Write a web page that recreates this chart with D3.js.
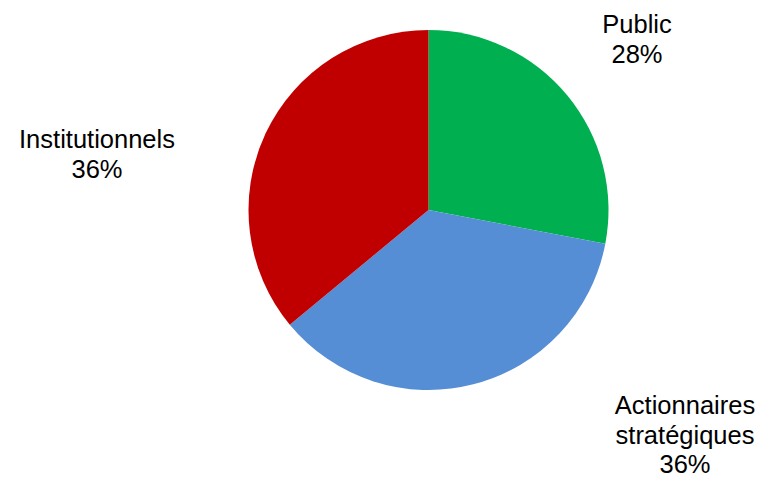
<!DOCTYPE html>
<html>
<head>
<meta charset="utf-8">
<script src="https://cdn.jsdelivr.net/npm/d3@7"></script>
<style>
  body { margin: 0; background: #fff; }
  text { font-family: "Liberation Sans", Arial, sans-serif; font-size: 25.5px; fill: #000; }
</style>
</head>
<body>
<div id="canvas"></div>
<script>
var categories = ["Public", "Actionnaires stratégiques", "Institutionnels"];
var values = [28, 36, 36];
var colors = ["#00B050", "#558ED5", "#C00000"];
var labelLines = [["Public", "28%"], ["Actionnaires", "stratégiques", "36%"], ["Institutionnels", "36%"]];
// label anchor (center x, first baseline y)
var labelPos = [[637, 33], [685, 414], [97, 148]];

var width = 762, height = 479,
    cx = 428.5, cy = 210, radius = 180;

var svg = d3.select("#canvas").append("svg")
    .attr("width", width)
    .attr("height", height);

var pie = d3.pie().sort(null).value(function(d) { return d; });
var arc = d3.arc().innerRadius(0).outerRadius(radius);

var g = svg.append("g").attr("transform", "translate(" + cx + "," + cy + ")");

g.selectAll("path")
    .data(pie(values))
  .enter().append("path")
    .attr("d", arc)
    .attr("fill", function(d, i) { return colors[i]; });

var labels = svg.selectAll("text.lbl")
    .data(labelLines)
  .enter().append("text")
    .attr("class", "lbl")
    .attr("text-anchor", "middle")
    .attr("transform", function(d, i) { return "translate(" + labelPos[i][0] + "," + labelPos[i][1] + ")"; });

labels.selectAll("tspan")
    .data(function(d) { return d; })
  .enter().append("tspan")
    .attr("x", 0)
    .attr("y", function(d, j) { return j * 29.5; })
    .text(function(d) { return d; });
</script>
</body>
</html>
